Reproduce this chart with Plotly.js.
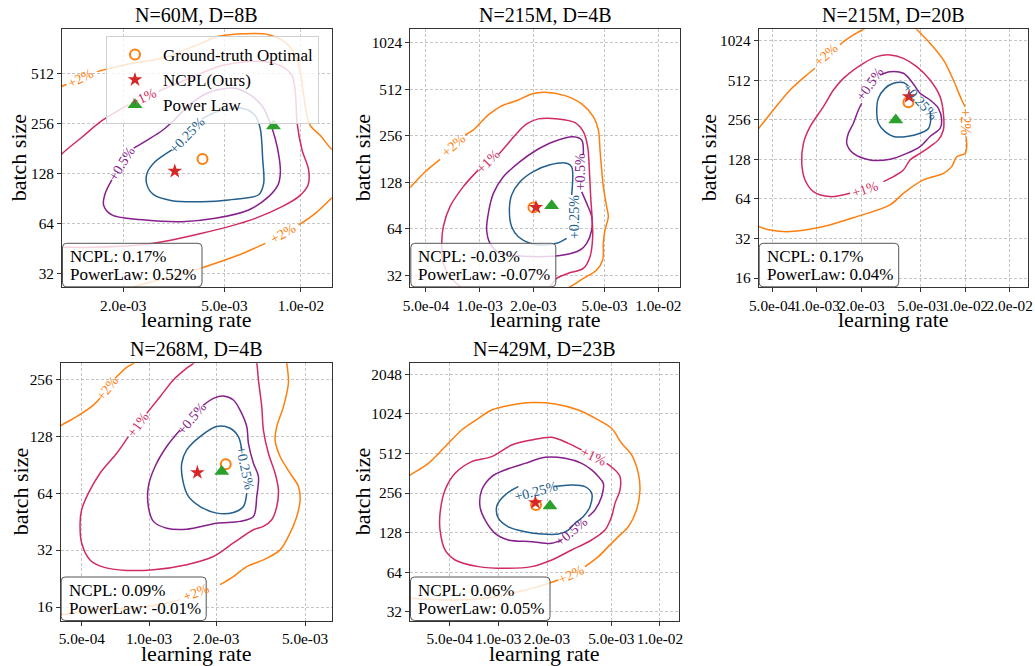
<!DOCTYPE html>
<html><head><meta charset="utf-8">
<script src="https://cdn.plot.ly/plotly-3.0.1.min.js"></script>
<style>html,body{margin:0;padding:0;background:#fff}#chart{width:1035px;height:666px}</style>
</head><body><div id="chart"></div>
<script>
// ---------- data ----------
const titles = ["N=60M, D=8B", "N=215M, D=4B", "N=215M, D=20B", "N=268M, D=4B", "N=429M, D=23B"];
const levelNames = ["+0.25%", "+0.5%", "+1%", "+2%"];
const ncplErr = ["0.17%", "-0.03%", "0.17%", "0.09%", "0.06%"];
const powerErr = ["0.52%", "-0.07%", "0.04%", "-0.01%", "0.05%"];

const gtLR = [4.10e-3, 2.0e-3, 4.15e-3, 2.206e-3, 1.71e-3];
const gtBS = [157.6, 88.1, 348, 91.1, 208];
const ncplLR = [3.19e-3, 2.066e-3, 4.19e-3, 1.646e-3, 1.694e-3];
const ncplBS = [133, 88.1, 384, 82.3, 217];
const plLR = [7.80e-3, 2.529e-3, 3.41e-3, 2.117e-3, 2.087e-3];
const plBS = [249, 90.3, 255, 83.3, 204];

const xTickVals = [[2e-3, 5e-3, 1e-2], [5e-4, 1e-3, 2e-3, 5e-3, 1e-2], [5e-4, 1e-3, 2e-3, 5e-3, 1e-2, 2e-2], [5e-4, 1e-3, 2e-3, 5e-3], [5e-4, 1e-3, 2e-3, 5e-3, 1e-2]];
const xTickText = [["2.0e-03", "5.0e-03", "1.0e-02"], ["5.0e-04", "1.0e-03", "2.0e-03", "5.0e-03", "1.0e-02"], ["5.0e-04", "1.0e-03", "2.0e-03", "5.0e-03", "1.0e-02", "2.0e-02"], ["5.0e-04", "1.0e-03", "2.0e-03", "5.0e-03"], ["5.0e-04", "1.0e-03", "2.0e-03", "5.0e-03", "1.0e-02"]];
const yTickVals = [[32, 64, 128, 256, 512], [32, 64, 128, 256, 512, 1024], [16, 32, 64, 128, 256, 512, 1024], [16, 32, 64, 128, 256], [32, 64, 128, 256, 512, 1024, 2048]];
const yTickText = [["32", "64", "128", "256", "512"], ["32", "64", "128", "256", "512", "1024"], ["16", "32", "64", "128", "256", "512", "1024"], ["16", "32", "64", "128", "256"], ["32", "64", "128", "256", "512", "1024", "2048"]];
// axis extents (learning rate, batch size)
const lrMin = [1.148e-3, 4.09e-4, 4.06e-4, 4.02e-4, 2.84e-4];
const lrMax = [1.322e-2, 1.322e-2, 2.67e-2, 6.58e-3, 1.317e-2];
const bsMin = [26.6, 26.8, 13.6, 13.5, 27.3];
const bsMax = [951, 1249, 1249, 311, 2483];

// ---- contour paths, panel 1 ----
const p1_c2_lr = [1.10e-3, 1.147e-3, 1.197e-3, null, 1.575e-3, 2.099e-3, 2.840e-3, 3.841e-3, 4.746e-3, 6.043e-3, 7.466e-3, 8.688e-3, 9.511e-3, 9.952e-3, 10.26e-3, 10.57e-3, 10.89e-3, 11.93e-3, 13.18e-3, 14.0e-3, null, 2.10e-3, 2.229e-3, 3.109e-3, 4.206e-3, 5.690e-3, 7.248e-3, null, 9.80e-3, 11.40e-3, 13.18e-3, 14.0e-3];
const p1_c2_bs = [415, 432, 442, null, 529, 588, 636, 758, 863, 895, 883, 794, 660, 524, 379, 287, 250, 218, 181, 170, null, 25.5, 26.9, 30.8, 35.4, 41.6, 48.9, null, 63.1, 74.2, 91.3, 100];
const p1_c1_lr = [1.10e-3, 1.147e-3, 1.375e-3, 1.648e-3, 2.099e-3, null, 2.754e-3, 3.841e-3, 4.891e-3, 6.228e-3, 7.466e-3, 8.556e-3, 9.228e-3, 9.511e-3, 9.656e-3, 10.10e-3, 10.73e-3, 10.67e-3, 9.80e-3, 8.428e-3, 6.616e-3, 5.195e-3, 4.081e-3, 3.109e-3, 2.298e-3, 1.551e-3, 1.147e-3, 1.10e-3];
const p1_c1_bs = [155, 169, 213, 268, 335, null, 403, 500, 575, 608, 602, 561, 500, 397, 262, 179, 135, 110, 93.5, 81.4, 69.2, 61.7, 56.2, 51.3, 47.8, 46.3, 46.3, 46.3];
const p1_c05_lr = [2.197e-3, 2.516e-3, 2.840e-3, 3.109e-3, 3.615e-3, 4.206e-3, 4.891e-3, 5.520e-3, 6.228e-3, 7.030e-3, 7.466e-3, 7.933e-3, 8.227e-3, 8.302e-3, 8.128e-3, 7.466e-3, 6.228e-3, 4.605e-3, 3.404e-3, 2.441e-3, 1.804e-3, 1.673e-3, 1.699e-3, 1.804e-3];
const p1_c05_bs = [183, 207, 233, 262, 330, 388, 416, 420, 388, 330, 274, 208, 158, 129, 110, 93.5, 77.7, 69.2, 66.1, 67.6, 72.5, 83.3, 98, 118];
const p1_c025_lr = [4.081e-3, 4.605e-3, 5.356e-3, 6.043e-3, 6.616e-3, 6.924e-3, 7.072e-3, 7.136e-3, 6.820e-3, 5.195e-3, 4.081e-3, 3.109e-3, 2.633e-3, 2.479e-3, 2.479e-3, 2.673e-3, 3.109e-3];
const p1_c025_bs = [274, 301, 318, 315, 287, 239, 158, 112, 96, 89.3, 87.2, 88.4, 96, 110, 129, 152, 179];
const p1_lab_lr = [3.561e-3, 1.976e-3, 2.405e-3, 1.354e-3, 8.556e-3];
const p1_lab_bs = [218, 148, 370, 484, 55.7];
const p1_lab_lvl = [0, 1, 2, 3, 3];
const p1_lab_ang = [-46, -58, -25, -27, -30];

// ---- panel 2 ----
const p2_c2_lr = [0.39e-3, 0.409e-3, 0.484e-3, 0.600e-3, null, 0.828e-3, 0.922e-3, 1.118e-3, 1.328e-3, 1.646e-3, 1.954e-3, 2.321e-3, 3.004e-3, 3.724e-3, 4.327e-3, 4.616e-3, 4.716e-3, 4.818e-3, 4.922e-3, 5.137e-3, 5.248e-3, 5.027e-3, 4.922e-3, 4.88e-3, 4.519e-3, 3.804e-3, 3.203e-3, 3.0e-3];
const p2_c2_bs = [112, 118.7, 146, 180, null, 259, 279, 349, 399, 436, 477, 489, 465, 411, 340, 279, 207, 154, 120, 89, 76.7, 62.9, 51.6, 40.2, 34.7, 30.6, 27.0, 26];
const p2_c1_lr = [1.283e-3, 1.447e-3, 1.611e-3, 1.833e-3, 2.130e-3, 2.756e-3, 3.417e-3, 3.804e-3, 4.023e-3, 4.110e-3, 4.182e-3, 4.254e-3, 4.291e-3, 4.146e-3, 3.804e-3, 3.135e-3, 2.698e-3, 2.476e-3, 2.4e-3, null, 0.983e-3, 0.810e-3, 0.682e-3, 0.626e-3, 0.613e-3, 0.626e-3, 0.682e-3, 0.776e-3, 0.80e-3];
const p2_c1_bs = [195, 229, 265, 305, 329, 329, 311, 272, 217, 154, 103, 76.7, 56.9, 42.3, 35.5, 33.0, 30.6, 27.0, 26, null, 154, 120, 89, 66.1, 51.6, 38.3, 31.4, 27.0, 26];
const p2_c05_lr = [3.804e-3, 3.724e-3, 3.344e-3, 2.585e-3, 2.084e-3, 1.682e-3, 1.357e-3, 1.193e-3, 1.118e-3, 1.094e-3, 1.143e-3, 1.299e-3, 1.479e-3, 2.084e-3, 2.940e-3, 3.645e-3, 3.972e-3, 4.236e-3, 4.236e-3, 3.972e-3, 3.724e-3];
const p2_c05_bs = [192, 240, 252, 234, 207, 174, 139, 108.5, 80.6, 62.9, 51.6, 44.4, 43.3, 42.3, 43.3, 46.7, 51.6, 62.9, 76.7, 93.5, 111];
const p2_c025_lr = [3.273e-3, 3.273e-3, 3.068e-3, 2.476e-3, 1.997e-3, 1.682e-3, 1.51e-3, 1.466e-3, 1.51e-3, 1.646e-3, 1.913e-3, 2.271e-3, 2.698e-3, 3.068e-3];
const p2_c025_bs = [106, 161, 170, 166, 150, 129, 106, 84.7, 66.1, 56.9, 51.6, 50.3, 51.6, 55.5];
const p2_lab_lr = [3.39e-3, 3.68e-3, 1.118e-3, 0.712e-3];
const p2_lab_bs = [76.7, 150, 174, 223];
const p2_lab_lvl = [0, 1, 2, 3];
const p2_lab_ang = [-90, -90, -45, -42];

// ---- panel 3 ----
const p3_c2_lr = [0.38e-3, 0.406e-3, 0.510e-3, 0.661e-3, 0.856e-3, 0.974e-3, null, 1.437e-3, 1.474e-3, 1.767e-3, 2.063e-3, 2.3e-3, null, 4.5e-3, 4.722e-3, 5.808e-3, 7.143e-3, 8.341e-3, 9.495e-3, 10.0e-3, null, 10.16e-3, 10.26e-3, 10.0e-3, 8.787e-3, 8.131e-3, 7.143e-3, 5.238e-3, 3.839e-3, 3.122e-3, 1.861e-3, 1.109e-3, 0.661e-3, 0.4845e-3, 0.406e-3, 0.38e-3];
const p3_c2_bs = [200, 220, 304, 431, 561, 631, null, 949, 978, 1131, 1248, 1330, null, 1330, 1248, 978, 730, 514, 362, 322, null, 191, 160, 142, 134, 112.6, 100.2, 89.2, 70.6, 57.6, 46.9, 39.4, 36.1, 37.1, 39.4, 40.5];
const p3_c1_lr = [1.678e-3, 1.230e-3, 0.950e-3, 0.834e-3, 0.792e-3, 0.813e-3, 0.902e-3, 1.109e-3, 1.296e-3, 1.513e-3, 2.063e-3, 2.538e-3, 3.122e-3, 3.839e-3, 4.722e-3, 5.808e-3, 6.785e-3, 7.143e-3, 7.143e-3, 6.610e-3, 5.808e-3, 4.973e-3, 4.258e-3, 3.839e-3, 3.287e-3, 2.814e-3];
const p3_c1_bs = [70.6, 66.6, 72.7, 89.2, 119.4, 169.5, 227, 322, 431, 529, 688, 774, 797, 751, 649, 514, 384, 287, 214, 180, 160, 142, 126.6, 106.2, 94.5, 86.6];
const p3_c05_lr = [2.673e-3, 3.122e-3, 3.839e-3, 4.369e-3, 4.973e-3, 5.808e-3, 6.610e-3, 6.962e-3, 6.785e-3, 5.808e-3, 4.973e-3, 4.045e-3, 3.122e-3, 2.288e-3, 1.767e-3, 1.593e-3, 1.635e-3, 1.767e-3, 1.909e-3, 2.011e-3];
const p3_c05_bs = [561, 595, 578, 499, 407, 362, 313, 255, 220, 191, 160, 142, 128.1, 126.6, 142, 169.5, 202, 241, 304, 342];
const p3_c025_lr = [5.808e-3, 5.869e-3, 5.661e-3, 4.973e-3, 4.045e-3, 3.287e-3, 2.888e-3, 2.604e-3, 2.538e-3, 2.604e-3, 2.888e-3, 3.287e-3, 3.839e-3, 4.150e-3];
const p3_c025_bs = [295, 256, 220, 202, 191, 191, 208, 241, 304, 373, 444, 485, 491, 463];
const p3_lab_lr = [4.973e-3, 2.288e-3, 2.117e-3, 1.168e-3, 10.0e-3];
const p3_lab_bs = [352, 471, 74.8, 797, 248];
const p3_lab_lvl = [0, 1, 2, 3, 3];
const p3_lab_ang = [47, -55, -18, -43, 90];

// ---- panel 4 ----
const p4_c2_lr = [0.38e-3, 0.4075e-3, 0.474e-3, 0.563e-3, 0.603e-3, null, 0.704e-3, 0.794e-3, 0.851e-3, 0.88e-3, null, 4.1e-3, 4.14e-3, 4.21e-3, 4.0e-3, 3.734e-3, 3.670e-3, 3.864e-3, 4.283e-3, 4.669e-3, 4.75e-3, 4.59e-3, 4.283e-3, 3.864e-3, 3.253e-3, 2.739e-3, 2.387e-3, 2.08e-3, null, 1.377e-3, 1.12e-3, 0.851e-3, 0.603e-3, 0.4075e-3, 0.38e-3];
const p4_c2_bs = [140, 147, 162.6, 187, 203, null, 259, 296, 311, 325, null, 330, 311, 244, 183.5, 144, 122.4, 100, 81.6, 69.4, 59, 48.2, 39.4, 32.1, 28.4, 26.2, 23.2, 21.0, null, 17.5, 16.5, 15.8, 15.6, 14.6, 14.4];
const p4_c1_lr = [0.976e-3, 1.12e-3, 1.285e-3, 1.475e-3, 1.58e-3, 1.62e-3, null, 3.0e-3, 3.038e-3, 3.090e-3, 3.198e-3, 3.253e-3, 3.425e-3, 3.670e-3, 3.798e-3, 3.734e-3, 3.545e-3, 3.253e-3, 2.935e-3, 2.387e-3, 1.942e-3, 1.475e-3, 1.046e-3, 0.794e-3, 0.624e-3, 0.544e-3, 0.499e-3, 0.491e-3, 0.499e-3, 0.535e-3, 0.603e-3, 0.716e-3, 0.808e-3];
const p4_c1_bs = [169, 207, 254, 293, 311, 325, null, 325, 311, 254, 183.5, 138, 104, 81.6, 66.6, 54.4, 46.3, 42.7, 41.0, 34.9, 29.6, 26.8, 25.2, 25.0, 26.0, 28.4, 34.9, 44.4, 52.3, 64, 81.6, 104, 127.5];
const p4_c05_lr = [1.752e-3, 1.942e-3, 2.153e-3, 2.387e-3, 2.557e-3, 2.739e-3, 2.787e-3, 2.935e-3, 3.090e-3, 3.038e-3, 2.935e-3, 2.557e-3, 2.01e-3, 1.475e-3, 1.2e-3, 1.046e-3, 0.993e-3, 0.993e-3, 1.064e-3, 1.2e-3, 1.377e-3];
const p4_c05_bs = [187, 203, 209, 199, 176, 144, 117.5, 92.2, 78.4, 61.5, 48.2, 45.4, 44.4, 41.3, 41.8, 45.4, 54.4, 69.4, 88.5, 112.9, 138];
const p4_c025_lr = [2.602e-3, 2.513e-3, 2.307e-3, 2.01e-3, 1.693e-3, 1.475e-3, 1.401e-3, 1.415e-3, 1.501e-3, 1.693e-3, 2.01e-3, 2.387e-3, 2.647e-3, 2.739e-3];
const p4_c025_bs = [108.4, 127.5, 141, 144, 127.5, 108.4, 92.2, 75.3, 61.5, 54.4, 50.2, 50.6, 54.4, 64];
const p4_lab_lr = [2.70e-3, 1.553e-3, 0.896e-3, 0.6505e-3, 1.635e-3];
const p4_lab_bs = [86.8, 159, 147, 229, 19.0];
const p4_lab_lvl = [0, 1, 2, 3, 3];
const p4_lab_ang = [78, -50, -55, -53, -22];

// ---- panel 5 ----
const p5_c2_lr = [0.27e-3, 0.2855e-3, 0.369e-3, 0.468e-3, 0.593e-3, 0.752e-3, 0.909e-3, 1.209e-3, 1.607e-3, 2.242e-3, 3.125e-3, 4.156e-3, 5.023e-3, 5.794e-3, 6.679e-3, 7.345e-3, 7.521e-3, 7.172e-3, 6.369e-3, 5.525e-3, 4.79e-3, 4.156e-3, 3.436e-3, null, 2.35e-3, 1.767e-3, 1.209e-3, 0.827e-3, 0.540e-3, 0.369e-3, 0.2855e-3, 0.27e-3];
const p5_c2_bs = [335, 352, 431, 577, 773, 948, 1097, 1198, 1248, 1219, 1097, 921, 796, 612, 499, 362, 270, 191, 142, 119.5, 100.3, 84.2, 70.7, null, 56.0, 49.8, 44.3, 40.6, 39.4, 39.9, 40.6, 41];
const p5_c1_lr = [4.678e-3, 5.268e-3, 5.656e-3, 5.656e-3, 5.268e-3, 5.023e-3, 4.568e-3, 3.779e-3, 2.842e-3, 2.138e-3, 1.607e-3, 1.1e-3, 0.752e-3, 0.540e-3, 0.468e-3, 0.4358e-3, 0.4358e-3, 0.468e-3, 0.540e-3, 0.684e-3, 0.909e-3, 1.209e-3, 1.607e-3, 2.138e-3, 2.71e-3, 3.278e-3];
const p5_c1_bs = [431, 384, 342, 270, 214, 170, 134, 112.7, 94.6, 79.4, 70.7, 68.6, 70.7, 79.4, 94.6, 134, 180, 270, 362, 444, 485, 594, 649, 680, 612, 545];
const p5_c05_lr = [3.604e-3, 3.963e-3, 4.357e-3, 4.462e-3, 4.156e-3, 3.779e-3, 3.278e-3, 2.585e-3, 1.944e-3, 1.462e-3, 1.1e-3, 0.909e-3, 0.789e-3, 0.770e-3, 0.827e-3, 0.954e-3, 1.153e-3, 1.607e-3, 2.138e-3, 2.465e-3];
const p5_c05_bs = [170, 191, 241, 304, 342, 384, 431, 471, 479, 431, 384, 342, 270, 202, 160, 126.6, 112.8, 109.5, 106.3, 112.8];
const p5_c025_lr = [2.189e-3, 2.842e-3, 3.436e-3, 3.779e-3, 3.69e-3, 3.356e-3, 2.98e-3, 2.71e-3, 2.35e-3, 1.854e-3, 1.462e-3, 1.153e-3, 1.0e-3, 0.976e-3, 1.049e-3, 1.209e-3, 1.329e-3];
const p5_c025_bs = [287, 295, 287, 255, 202, 170, 151, 134, 125, 125, 130.4, 142, 165, 202, 234, 270, 287];
const p5_lab_lr = [1.702e-3, 2.842e-3, 3.87e-3, 2.842e-3];
const p5_lab_bs = [263, 130.4, 485, 61.1];
const p5_lab_lvl = [0, 1, 2, 3];
const p5_lab_ang = [-15, -40, 25, -25];

// ---------- styling / assembly ----------
const levelColors = ["#225f8e", "#86208c", "#d12b62", "#ff7f0e"];
const FONT = "'Liberation Serif', 'Times New Roman', serif";
const W = 1035, H = 666;
// plot-area boxes in pixels [left, right, top, bottom]
const boxes = [[62, 331.7, 29.3, 287.3], [410.3, 680, 29.3, 287.3], [758.7, 1028.3, 29.3, 287.3], [60.7, 331.7, 363.3, 621], [410, 679.3, 363.3, 621]];
const batchTitleX = [18, 362, 708, 20, 362];
const errBoxW = [140, 145.5, 140, 145.5, 140];
const errBoxH = 44;

const contours = [
  [[p1_c025_lr, p1_c025_bs], [p1_c05_lr, p1_c05_bs], [p1_c1_lr, p1_c1_bs], [p1_c2_lr, p1_c2_bs]],
  [[p2_c025_lr, p2_c025_bs], [p2_c05_lr, p2_c05_bs], [p2_c1_lr, p2_c1_bs], [p2_c2_lr, p2_c2_bs]],
  [[p3_c025_lr, p3_c025_bs], [p3_c05_lr, p3_c05_bs], [p3_c1_lr, p3_c1_bs], [p3_c2_lr, p3_c2_bs]],
  [[p4_c025_lr, p4_c025_bs], [p4_c05_lr, p4_c05_bs], [p4_c1_lr, p4_c1_bs], [p4_c2_lr, p4_c2_bs]],
  [[p5_c025_lr, p5_c025_bs], [p5_c05_lr, p5_c05_bs], [p5_c1_lr, p5_c1_bs], [p5_c2_lr, p5_c2_bs]]
];
const labels = [
  [p1_lab_lr, p1_lab_bs, p1_lab_lvl, p1_lab_ang],
  [p2_lab_lr, p2_lab_bs, p2_lab_lvl, p2_lab_ang],
  [p3_lab_lr, p3_lab_bs, p3_lab_lvl, p3_lab_ang],
  [p4_lab_lr, p4_lab_bs, p4_lab_lvl, p4_lab_ang],
  [p5_lab_lr, p5_lab_bs, p5_lab_lvl, p5_lab_ang]
];

function px2x(p) { return p / W; }
function px2y(p) { return 1 - p / H; }
function roundRect(x0, y0, x1, y1, r) {
  const X = px2x, Y = px2y;
  return "M" + X(x0 + r) + "," + Y(y0) + " L" + X(x1 - r) + "," + Y(y0) +
    " Q" + X(x1) + "," + Y(y0) + " " + X(x1) + "," + Y(y0 + r) +
    " L" + X(x1) + "," + Y(y1 - r) + " Q" + X(x1) + "," + Y(y1) + " " + X(x1 - r) + "," + Y(y1) +
    " L" + X(x0 + r) + "," + Y(y1) + " Q" + X(x0) + "," + Y(y1) + " " + X(x0) + "," + Y(y1 - r) +
    " L" + X(x0) + "," + Y(y0 + r) + " Q" + X(x0) + "," + Y(y0) + " " + X(x0 + r) + "," + Y(y0) + " Z";
}

const traces = [];
const annotations = [];
const shapes = [];
const layout = {
  width: W, height: H, margin: {l: 0, r: 0, t: 0, b: 0},
  paper_bgcolor: "#fff", plot_bgcolor: "#fff",
  font: {family: FONT, size: 15.3, color: "#000"},
  showlegend: true,
  legend: {x: 106 / W, y: 1 - 36 / H, xanchor: "left", yanchor: "top",
    bgcolor: "rgba(255,255,255,0.8)", bordercolor: "#d0d0d0", borderwidth: 1,
    font: {family: FONT, size: 17, color: "#000"}, tracegroupgap: 0, itemwidth: 46},
  annotations: annotations,
  shapes: shapes
};

for (let k = 0; k < 5; k++) {
  const sfx = k === 0 ? "" : String(k + 1);
  const xa = "x" + sfx, ya = "y" + sfx;
  const b = boxes[k];
  const axCommon = {type: "log", showline: true, mirror: true, linecolor: "#333", linewidth: 1,
    ticks: "outside", ticklen: 4, tickcolor: "#333", tickwidth: 1,
    showgrid: true, gridcolor: "#b8b8b8", gridwidth: 0.8, griddash: "3px,2px",
    zeroline: false, tickangle: 0, tickfont: {family: FONT, size: 15.3, color: "#000"}};
  layout["xaxis" + sfx] = Object.assign({}, axCommon, {
    domain: [b[0] / W, b[1] / W], anchor: ya,
    range: [Math.log10(lrMin[k]), Math.log10(lrMax[k])],
    tickmode: "array", tickvals: xTickVals[k], ticktext: xTickText[k]});
  layout["yaxis" + sfx] = Object.assign({}, axCommon, {
    domain: [1 - b[3] / H, 1 - b[2] / H], anchor: xa,
    range: [Math.log10(bsMin[k]), Math.log10(bsMax[k])],
    tickmode: "array", tickvals: yTickVals[k], ticktext: yTickText[k]});

  // contour lines
  contours[k].forEach((c, li) => {
    traces.push({type: "scatter", mode: "lines", x: c[0], y: c[1], xaxis: xa, yaxis: ya,
      connectgaps: false, hoverinfo: "skip", showlegend: false,
      line: {color: levelColors[li], width: 1.5, shape: "spline", smoothing: 0.9}});
  });
  // contour labels
  const L = labels[k];
  for (let i = 0; i < L[0].length; i++) {
    annotations.push({xref: xa, yref: ya, x: Math.log10(L[0][i]), y: Math.log10(L[1][i]),
      text: levelNames[L[2][i]], showarrow: false, textangle: L[3][i],
      font: {family: FONT, size: 14, color: levelColors[L[2][i]]}});
  }
  // markers
  traces.push({type: "scatter", mode: "markers", x: [gtLR[k]], y: [gtBS[k]], xaxis: xa, yaxis: ya,
    name: "Ground-truth Optimal", showlegend: k === 0, legendrank: 1,
    marker: {symbol: "circle-open", size: 10, color: "#ff7f0e", line: {width: 2, color: "#ff7f0e"}}});
  traces.push({type: "scatter", mode: "markers", x: [ncplLR[k]], y: [ncplBS[k]], xaxis: xa, yaxis: ya,
    name: "NCPL(Ours)", showlegend: k === 0, legendrank: 2,
    marker: {symbol: "star", size: 11, color: "#d62728", line: {width: 0}}});
  traces.push({type: "scatter", mode: "markers", x: [plLR[k]], y: [plBS[k]], xaxis: xa, yaxis: ya,
    name: "Power Law", showlegend: k === 0, legendrank: 3,
    marker: {symbol: "triangle-up", size: 13, color: "#2ca02c", line: {width: 0}}});

  // subplot title
  annotations.push({xref: "paper", yref: "paper", x: (b[0] + b[1]) / 2 / W, y: 1 - (b[2] - 14.5) / H,
    text: titles[k], showarrow: false, xanchor: "center", yanchor: "middle",
    font: {family: FONT, size: 20, color: "#000"}});
  // axis titles
  annotations.push({xref: "paper", yref: "paper", x: (b[0] + b[1]) / 2 / W, y: 1 - (b[3] + 32.5) / H,
    text: "learning rate", showarrow: false, xanchor: "center", yanchor: "middle",
    font: {family: FONT, size: 22, color: "#000"}});
  annotations.push({xref: "paper", yref: "paper", x: batchTitleX[k] / W, y: 1 - (b[2] + b[3]) / 2 / H,
    text: "batch size", showarrow: false, xanchor: "center", yanchor: "middle", textangle: -90,
    font: {family: FONT, size: 22, color: "#000"}});
  // error box (rounded frame + two text lines)
  shapes.push({type: "path", xref: "paper", yref: "paper",
    path: roundRect(b[0] + 0.5, b[3] - errBoxH, b[0] + errBoxW[k], b[3] - 0.5, 4),
    fillcolor: "rgba(255,255,255,0.8)", line: {color: "#555", width: 1}, layer: "above"});
  annotations.push({xref: "paper", yref: "paper", x: px2x(b[0] + 6), y: px2y(b[3] - 30.5),
    xanchor: "left", yanchor: "middle", showarrow: false, text: "NCPL: " + ncplErr[k],
    font: {family: FONT, size: 17, color: "#000"}});
  annotations.push({xref: "paper", yref: "paper", x: px2x(b[0] + 6), y: px2y(b[3] - 13),
    xanchor: "left", yanchor: "middle", showarrow: false, text: "PowerLaw: " + powerErr[k],
    font: {family: FONT, size: 17, color: "#000"}});
}

Plotly.newPlot("chart", traces, layout, {displayModeBar: false, staticPlot: true});
</script></body></html>
